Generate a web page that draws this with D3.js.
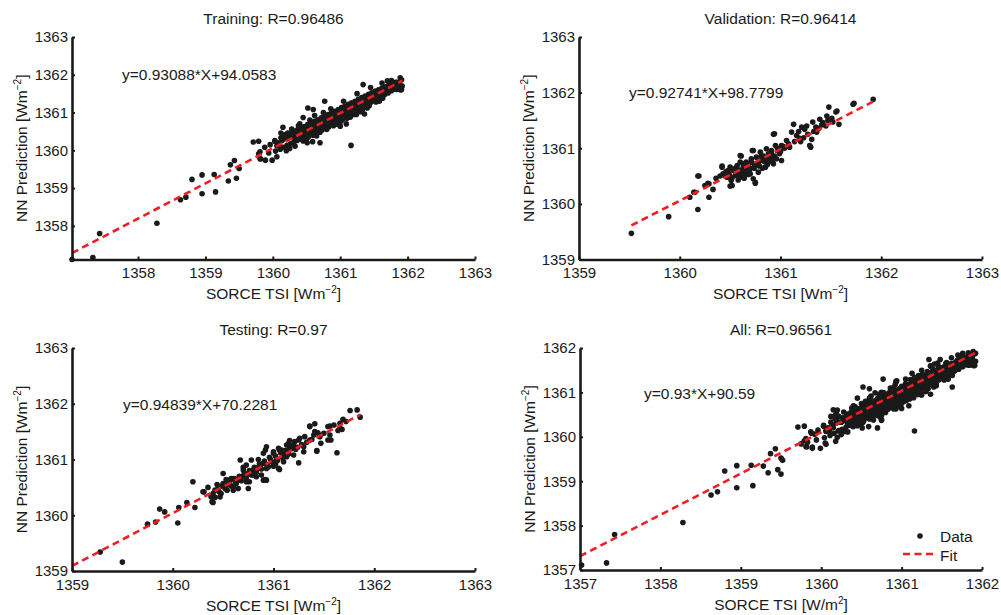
<!DOCTYPE html>
<html>
<head>
<meta charset="utf-8">
<script src="https://cdn.jsdelivr.net/npm/d3@7"></script>
<style>
body { margin: 0; background: #fff; }
text { font-family: "Liberation Sans", Arial, Helvetica, sans-serif; fill: #1a1a1a; }
</style>
</head>
<body>
<svg id="chart" width="1001" height="615"></svg>
<script>
// values: [SORCE TSI, NN prediction]
var trainPts = [
  [1357.02,1357.11],[1357.33,1357.16],[1357.43,1357.80],[1358.28,1358.07],
  [1358.63,1358.69],[1358.71,1358.76],[1358.80,1359.23],[1358.95,1359.35],[1358.95,1358.85],
  [1359.13,1359.36],[1359.15,1358.90],[1359.34,1359.19],[1359.37,1359.62],[1359.43,1359.73],
  [1359.46,1359.26],[1359.50,1359.52],
  [1359.71,1360.22],[1359.79,1360.24],[1359.79,1359.91],[1359.81,1359.78],[1359.88,1360.08],
  [1359.81,1359.96],[1359.82,1359.77],[1359.89,1359.74],[1359.99,1359.74],[1360.06,1359.83],
  [1359.94,1359.93],[1359.96,1360.15],[1360.03,1360.24],[1360.12,1360.46],[1360.15,1360.61],
  [1360.19,1360.37],[1360.10,1360.17],[1360.20,1359.99],[1360.33,1360.11],[1360.45,1360.87],
  [1360.52,1361.12],[1360.60,1361.08],[1360.77,1361.30],[1360.51,1360.20],[1360.59,1360.23],
  [1360.70,1360.20],[1360.58,1360.64],[1361.00,1360.64],[1361.09,1360.70],[1361.16,1360.13],
  [1361.24,1360.95],[1361.36,1360.96],[1361.34,1361.74],[1361.76,1361.85],[1361.89,1361.92],
  [1361.91,1361.61],[1361.84,1361.61],
  [1360.04,1359.98],[1360.06,1360.12],[1360.03,1360.26],
  [1360.11,1360.03],[1360.09,1360.20],[1360.12,1360.33],
  [1360.16,1360.08],[1360.14,1360.27],[1360.17,1360.41],
  [1360.21,1360.13],[1360.19,1360.31],[1360.22,1360.46],
  [1360.26,1360.17],[1360.24,1360.33],[1360.27,1360.43],
  [1360.31,1360.22],[1360.29,1360.38],[1360.32,1360.51],
  [1360.36,1360.26],[1360.34,1360.42],[1360.37,1360.55],
  [1360.41,1360.30],[1360.39,1360.47],[1360.42,1360.59],
  [1360.46,1360.35],[1360.44,1360.51],[1360.47,1360.63],
  [1360.51,1360.40],[1360.49,1360.55],[1360.52,1360.69],[1360.50,1360.30],
  [1360.56,1360.45],[1360.54,1360.60],[1360.57,1360.73],
  [1360.61,1360.48],[1360.59,1360.64],[1360.62,1360.77],[1360.60,1360.40],
  [1360.66,1360.53],[1360.64,1360.68],[1360.67,1360.81],
  [1360.71,1360.58],[1360.69,1360.72],[1360.72,1360.86],[1360.70,1360.48],
  [1360.76,1360.62],[1360.74,1360.77],[1360.77,1360.90],
  [1360.81,1360.66],[1360.79,1360.82],[1360.82,1360.95],[1360.80,1360.55],
  [1360.86,1360.72],[1360.84,1360.86],[1360.87,1360.99],
  [1360.91,1360.76],[1360.89,1360.90],[1360.92,1361.03],[1360.90,1360.65],
  [1360.96,1360.80],[1360.94,1360.95],[1360.97,1361.08],
  [1361.01,1360.85],[1360.99,1361.00],[1361.02,1361.13],[1361.00,1360.75],
  [1361.06,1360.90],[1361.04,1361.05],[1361.07,1361.17],
  [1361.11,1360.95],[1361.09,1361.08],[1361.12,1361.22],[1361.10,1360.85],
  [1361.16,1361.00],[1361.14,1361.14],[1361.17,1361.26],
  [1361.21,1361.04],[1361.19,1361.18],[1361.22,1361.30],[1361.20,1360.95],
  [1361.26,1361.08],[1361.24,1361.23],[1361.27,1361.35],
  [1361.31,1361.12],[1361.29,1361.27],[1361.32,1361.40],[1361.30,1361.02],
  [1361.36,1361.18],[1361.34,1361.32],[1361.37,1361.44],
  [1361.41,1361.22],[1361.39,1361.36],[1361.42,1361.48],
  [1361.46,1361.28],[1361.44,1361.42],[1361.47,1361.52],
  [1361.51,1361.32],[1361.49,1361.46],[1361.52,1361.57],
  [1361.56,1361.38],[1361.54,1361.50],[1361.57,1361.60],
  [1361.61,1361.42],[1361.59,1361.55],[1361.62,1361.65],
  [1361.66,1361.48],[1361.64,1361.60],[1361.67,1361.68],
  [1361.71,1361.52],[1361.69,1361.64],[1361.72,1361.72],
  [1361.76,1361.58],[1361.74,1361.70],[1361.77,1361.78],
  [1361.81,1361.62],[1361.79,1361.75],[1361.82,1361.80],
  [1361.86,1361.68],[1361.84,1361.80],
  [1361.90,1361.60],[1361.88,1361.78],[1361.91,1361.87],
  [1360.33,1360.30],[1360.35,1360.46],[1360.38,1360.36],[1360.40,1360.52],
  [1360.43,1360.40],[1360.45,1360.56],[1360.48,1360.46],[1360.50,1360.62],
  [1360.53,1360.50],[1360.55,1360.66],[1360.53,1360.36],[1360.58,1360.55],[1360.60,1360.70],
  [1360.63,1360.60],[1360.65,1360.75],[1360.63,1360.45],[1360.68,1360.64],[1360.70,1360.80],
  [1360.73,1360.69],[1360.75,1360.84],[1360.73,1360.54],[1360.78,1360.74],[1360.80,1360.88],
  [1360.83,1360.78],[1360.85,1360.93],[1360.83,1360.62],[1360.88,1360.83],[1360.90,1360.97],
  [1360.93,1360.88],[1360.95,1361.02],[1360.93,1360.70],[1360.98,1360.92],[1361.00,1361.06],
  [1361.03,1360.97],[1361.05,1361.10],[1361.03,1360.80],[1361.08,1361.02],[1361.10,1361.15],
  [1361.13,1361.06],[1361.15,1361.20],[1361.13,1360.90],[1361.18,1361.10],[1361.20,1361.24],
  [1361.23,1361.15],[1361.25,1361.28],[1361.23,1360.98],[1361.28,1361.20],[1361.30,1361.33],
  [1361.33,1361.24],[1361.35,1361.38],[1361.33,1361.08],[1361.38,1361.29],[1361.40,1361.42],
  [1361.43,1361.33],[1361.45,1361.47],[1361.43,1361.18],[1361.48,1361.38],[1361.50,1361.51],
  [1361.53,1361.43],[1361.55,1361.55],[1361.53,1361.28],[1361.58,1361.47],[1361.60,1361.60],
  [1361.63,1361.52],[1361.65,1361.64],[1361.63,1361.38],[1361.68,1361.56],[1361.70,1361.68],
  [1361.73,1361.61],[1361.75,1361.73],[1361.78,1361.66],[1361.80,1361.77],
  [1361.83,1361.71],[1361.85,1361.74],[1361.87,1361.62],[1361.92,1361.70],
  [1360.28,1360.56],[1360.40,1360.70],[1360.62,1360.92],[1360.86,1361.10],[1361.05,1361.30],
  [1361.25,1361.50],[1361.45,1361.66],[1361.62,1361.78],[1361.70,1361.84],
  [1360.45,1360.25],[1360.65,1360.38],[1360.95,1360.70],[1361.15,1360.88],[1361.40,1361.12],
  [1361.58,1361.30],[1360.25,1360.05],[1360.38,1360.65],[1360.55,1360.80],[1360.75,1361.00]
];

var valPts = [
  [1359.52,1359.47],[1359.89,1359.77],[1360.18,1359.90],[1360.18,1360.50],[1360.10,1360.12],
  [1360.15,1360.21],[1360.29,1360.12],[1360.28,1360.37],[1360.33,1360.26],[1360.42,1360.68],
  [1360.60,1360.87],[1360.72,1360.96],[1360.94,1361.26],[1361.13,1361.43],[1360.75,1360.39],
  [1361.73,1361.81],[1361.92,1361.88],[1361.48,1361.74],[1361.58,1361.43],[1361.56,1361.67],
  [1361.30,1361.02],[1361.01,1360.78],[1360.50,1360.32],
  [1361.72,1361.79],[1361.55,1361.65],[1361.51,1361.54],[1361.46,1361.58],[1361.39,1361.52],
  [1361.32,1361.47],[1361.26,1361.40],[1361.21,1361.38],[1361.11,1361.29],[1361.16,1361.23],
  [1361.23,1361.19],[1361.29,1361.05],[1361.31,1361.16],[1361.36,1361.29],[1360.93,1361.25],
  [1360.95,1361.05],[1361.06,1361.14],[1361.01,1361.05],[1360.86,1360.99],[1360.80,1360.93],
  [1360.91,1360.96],[1360.96,1360.81],[1360.88,1360.75],[1360.93,1360.72],[1360.73,1360.96],
  [1360.71,1360.81],[1360.76,1360.84],[1360.81,1360.78],[1360.61,1360.86],[1360.66,1360.75],
  [1360.60,1360.75],[1360.63,1360.66],[1360.57,1360.69],[1360.53,1360.60],[1360.58,1360.59],
  [1360.50,1360.66],[1360.49,1360.53],[1360.55,1360.51],[1360.60,1360.48],[1360.42,1360.66],
  [1360.43,1360.54],[1360.47,1360.48],[1360.51,1360.42],[1360.52,1360.33],[1360.73,1360.45],
  [1360.75,1360.37],[1360.70,1360.54],[1360.78,1360.57],[1360.85,1360.66],[1360.19,1360.50],
  [1360.29,1360.36],[1360.25,1360.33],[1360.14,1360.21],
  [1360.46,1360.58],[1360.55,1360.64],[1360.62,1360.58],[1360.68,1360.70],[1360.74,1360.68],
  [1360.83,1360.86],[1360.88,1360.90],[1360.98,1360.95],[1361.04,1361.00],[1361.08,1361.08],
  [1360.66,1360.62],[1360.70,1360.64],[1360.64,1360.52],[1360.78,1360.74],[1360.84,1360.80],
  [1361.18,1361.30],[1361.24,1361.34],[1361.42,1361.46],[1361.45,1361.40],[1361.35,1361.38],
  [1360.57,1360.56],[1360.48,1360.60],[1360.91,1360.86],[1360.99,1360.90],[1361.20,1361.12],
  [1360.45,1360.50],[1360.47,1360.56],[1360.52,1360.47],[1360.53,1360.62],[1360.56,1360.52],
  [1360.59,1360.61],[1360.61,1360.55],[1360.63,1360.72],[1360.65,1360.58],[1360.67,1360.66],
  [1360.69,1360.60],[1360.71,1360.75],[1360.74,1360.64],[1360.76,1360.72],[1360.79,1360.68],
  [1360.81,1360.84],[1360.84,1360.76],[1360.86,1360.82],[1360.89,1360.80],[1360.91,1360.92],
  [1360.94,1360.86],[1360.97,1361.00],[1361.00,1360.94],[1361.03,1361.03],[1361.09,1361.02],
  [1361.14,1361.12],[1361.19,1361.18],[1361.27,1361.25],[1361.33,1361.30],[1361.38,1361.36],
  [1361.41,1361.42],[1361.47,1361.50],[1361.52,1361.47],[1360.40,1360.50],[1360.36,1360.46],
  [1360.58,1360.43],[1360.64,1360.46],[1360.68,1360.53],[1360.82,1360.64],[1360.87,1360.71],
  [1360.92,1360.78]
];

var testPts = [
  [1359.28,1359.34],[1359.50,1359.16],[1359.75,1359.84],[1359.83,1359.88],[1359.87,1360.11],
  [1359.92,1360.06],[1360.05,1359.86],[1360.06,1360.14],[1360.14,1360.23],[1360.22,1360.14],
  [1360.20,1360.60],[1360.31,1360.42],[1360.35,1360.50],[1360.39,1360.24],[1360.38,1360.33],
  [1361.63,1361.12],[1361.76,1361.88],[1361.83,1361.89],[1361.86,1361.76],[1361.69,1361.72],
  [1361.66,1361.56],[1361.56,1361.60],[1361.54,1361.35],[1361.43,1361.16],[1361.36,1361.60],
  [1361.41,1361.50],[1361.25,1360.94],[1361.16,1361.20],[1360.93,1361.23],[1360.90,1360.63],
  [1360.93,1360.63],[1360.75,1360.48],[1360.50,1360.75],[1360.67,1360.99],[1360.40,1360.39],
  [1360.47,1360.33],[1361.31,1361.41],[1361.46,1361.41],
  [1361.43,1361.15],[1361.57,1361.35],[1361.56,1361.44],[1361.68,1361.54],[1361.66,1361.65],
  [1361.72,1361.68],[1361.36,1361.59],[1361.41,1361.64],[1361.54,1361.59],[1361.46,1361.44],
  [1361.47,1361.29],[1361.30,1361.14],[1361.20,1361.08],[1361.15,1361.29],[1361.36,1361.35],
  [1361.26,1361.38],[1361.40,1361.44],[1360.90,1361.11],[1360.90,1360.93],[1360.92,1360.64],
  [1361.06,1360.82],[1361.03,1360.99],[1361.13,1361.05],[1361.20,1361.26],[1361.06,1361.17],
  [1361.00,1361.11],[1361.10,1360.96],[1360.95,1360.87],[1361.30,1361.23],
  [1360.30,1360.42],[1360.42,1360.32],[1360.40,1360.23],[1360.45,1360.48],[1360.50,1360.57],
  [1360.54,1360.45],[1360.57,1360.63],[1360.60,1360.50],[1360.65,1360.48],[1360.67,1360.69],
  [1360.73,1360.90],[1360.75,1360.75],[1360.70,1360.81],[1360.80,1360.81],[1360.83,1360.69],
  [1360.78,1360.99],[1360.87,1360.90],[1360.93,1360.84],[1361.00,1361.14],[1361.05,1360.84],
  [1361.08,1361.17],[1361.13,1361.26],[1361.18,1361.20],[1361.21,1361.32],[1361.25,1361.35],
  [1360.92,1361.17],[1360.65,1360.63],[1360.48,1360.39],[1360.73,1360.60],
  [1360.55,1360.55],[1360.62,1360.60],[1360.70,1360.70],[1360.85,1360.85],[1360.97,1361.00],
  [1361.10,1361.10],[1361.22,1361.18],[1360.58,1360.66],[1360.80,1360.72],[1361.02,1360.92],
  [1360.42,1360.45],[1360.46,1360.42],[1360.48,1360.52],[1360.52,1360.48],[1360.55,1360.60],
  [1360.58,1360.53],[1360.61,1360.66],[1360.63,1360.57],[1360.66,1360.70],[1360.68,1360.62],
  [1360.71,1360.75],[1360.73,1360.67],[1360.76,1360.80],[1360.78,1360.72],[1360.81,1360.86],
  [1360.83,1360.77],[1360.86,1360.92],[1360.88,1360.83],[1360.91,1360.97],[1360.94,1360.90],
  [1360.96,1361.04],[1360.99,1360.95],[1361.02,1361.06],[1361.04,1360.98],[1361.07,1361.12],
  [1361.09,1361.03],[1361.12,1361.16],[1361.15,1361.10],[1361.18,1361.24],[1361.24,1361.22],
  [1361.28,1361.27],[1361.33,1361.31],[1361.38,1361.36],[1361.44,1361.48],[1361.50,1361.47],
  [1361.60,1361.62],[1361.64,1361.52],[1360.44,1360.55],[1360.53,1360.64],[1360.60,1360.45],
  [1360.70,1360.86],[1360.76,1360.60],[1360.85,1361.00],[1360.88,1360.72],[1361.00,1360.88],
  [1361.05,1361.20],[1361.16,1361.34]
];

var allPts = trainPts.concat(valPts, testPts);

var titles = ['Training: R=0.96486', 'Validation: R=0.96414', 'Testing: R=0.97', 'All: R=0.96561'];
var equations = ['y=0.93088*X+94.0583', 'y=0.92741*X+98.7799', 'y=0.94839*X+70.2281', 'y=0.93*X+90.59'];
var fitCoef = [[0.93088, 94.0583], [0.92741, 98.7799], [0.94839, 70.2281], [0.9309, 94.08]];
var fitRange = [[1357.02, 1361.92], [1359.52, 1361.93], [1359.0, 1361.86], [1357.0, 1361.93]];
var domains = [[[1357.02, 1363], [1357.11, 1363]], [[1359, 1363], [1359, 1363]],
               [[1359, 1363], [1359, 1363]], [[1357, 1362], [1357, 1362]]];
var tickSets = [[1358, 1359, 1360, 1361, 1362, 1363], [1359, 1360, 1361, 1362, 1363],
                [1359, 1360, 1361, 1362, 1363], [1357, 1358, 1359, 1360, 1361, 1362]];
var unitSup = ['Wm', 'Wm', 'Wm', 'W/m'];
var unitExp = ['\u22122', '\u22122', '\u22122', '2'];

var RED = '#ef1d24', INK = '#1a1a1a';
var svg = d3.select('#chart');

// plot boxes [left, right, top, bottom], equation anchor [x, baseline]
var boxes = [[72, 475, 37, 259.5], [579, 982, 37, 259.5], [72, 475, 348, 571], [580, 982, 348, 570]];
var eqPos = [[122, 80], [629, 98], [123, 410], [644, 399]];
var pointSets = [trainPts, valPts, testPts, allPts];

function supLabel(sel, base, exp) {
  sel.append('tspan').text(base);
  sel.append('tspan').attr('font-size', 10).attr('dy', -6).text(exp);
  sel.append('tspan').attr('dy', 6).text(']');
}

boxes.forEach(function(b, i) {
  var x = d3.scaleLinear().domain(domains[i][0]).range([b[0], b[1]]);
  var y = d3.scaleLinear().domain(domains[i][1]).range([b[3], b[2]]);
  var g = svg.append('g');

  g.selectAll('circle.pt').data(pointSets[i]).enter().append('circle')
    .attr('class', 'pt')
    .attr('cx', function(d) { return x(d[0]); })
    .attr('cy', function(d) { return y(d[1]); })
    .attr('r', 2.8)
    .attr('fill', INK);

  var c = fitCoef[i];
  var line = d3.line()
    .x(function(d) { return x(d); })
    .y(function(d) { return y(c[0] * d + c[1]); });
  g.append('path').datum(fitRange[i]).attr('d', line)
    .attr('fill', 'none').attr('stroke', RED).attr('stroke-width', 2.6)
    .attr('stroke-dasharray', '7,4.5');

  var xa = g.append('g').attr('transform', 'translate(0,' + b[3] + ')')
    .call(d3.axisBottom(x).tickValues(tickSets[i]).tickFormat(d3.format('d'))
      .tickSize(-3).tickSizeOuter(0).tickPadding(8));
  var ya = g.append('g').attr('transform', 'translate(' + b[0] + ',0)')
    .call(d3.axisLeft(y).tickValues(tickSets[i]).tickFormat(d3.format('d'))
      .tickSize(-3).tickSizeOuter(0).tickPadding(4));
  [xa, ya].forEach(function(a) {
    a.attr('font-family', null).attr('font-size', 15);
    a.select('.domain').attr('stroke', INK).attr('stroke-width', 2.6);
    a.selectAll('.tick line').attr('stroke', INK).attr('stroke-width', 2);
    a.selectAll('.tick text').attr('fill', INK);
  });

  g.append('text').attr('x', (b[0] + b[1]) / 2).attr('y', b[2] - 13)
    .attr('text-anchor', 'middle').attr('font-size', 15.5).text(titles[i]);

  g.append('text').attr('x', eqPos[i][0]).attr('y', eqPos[i][1])
    .attr('font-size', 15.5).text(equations[i]);

  var xl = g.append('text').attr('x', (b[0] + b[1]) / 2).attr('y', b[3] + 39.5)
    .attr('text-anchor', 'middle').attr('font-size', 15.5);
  supLabel(xl, 'SORCE TSI [' + unitSup[i], unitExp[i]);

  var yl = g.append('text')
    .attr('transform', 'translate(' + (b[0] - 45.5) + ',' + ((b[2] + b[3]) / 2) + ') rotate(-90)')
    .attr('text-anchor', 'middle').attr('font-size', 15.5);
  supLabel(yl, 'NN Prediction [Wm', '\u22122');
});

// legend of the last panel
var lg = svg.append('g');
lg.append('circle').attr('cx', 920).attr('cy', 536).attr('r', 2.8).attr('fill', INK);
lg.append('text').attr('x', 940).attr('y', 541.5).attr('font-size', 15.5).text('Data');
lg.append('line').attr('x1', 903).attr('x2', 937).attr('y1', 554).attr('y2', 554)
  .attr('stroke', RED).attr('stroke-width', 2.6).attr('stroke-dasharray', '7,4.5');
lg.append('text').attr('x', 940).attr('y', 560.5).attr('font-size', 15.5).text('Fit');
</script>
</body>
</html>
